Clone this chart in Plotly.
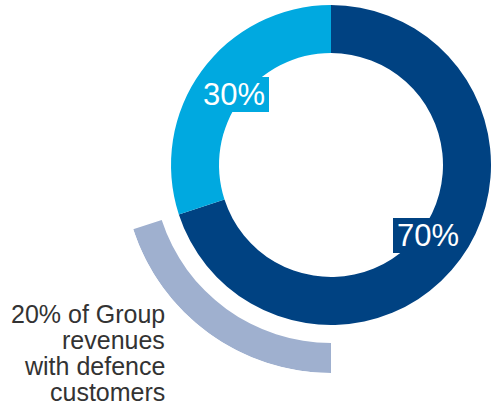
import plotly.graph_objects as go

# Revenue split shown as a donut, plus the defence share as an outer arc
segments = ["Segment A", "Segment B"]
shares = [70, 30]
segment_colors = ["#004282", "#00a9e0"]
label_texts = ["70%", "30%"]

defence_share = 20
defence_color = "#9fb0cf"
caption_lines = ["20% of Group", "revenues", "with defence", "customers"]

W, H = 491, 411
cx, cy = 331, 165          # donut centre in pixels (from top-left)
r_out, r_in = 160, 112     # donut radii
arc_in, arc_out = 178, 208  # outer arc radii


def px(x):
    return x / W


def py(y):
    return (H - y) / H


fig = go.Figure()

fig.add_trace(go.Pie(
    labels=segments,
    values=shares,
    marker=dict(colors=segment_colors, line=dict(width=0)),
    hole=r_in / r_out,
    sort=False,
    direction="clockwise",
    rotation=0,
    textinfo="none",
    hoverinfo="label+percent",
    showlegend=False,
    domain=dict(x=[px(cx - r_out), px(cx + r_out)],
                y=[py(cy + r_out), py(cy - r_out)]),
))

# Outer arc: starts at the bottom and sweeps clockwise by the defence share
span = defence_share / 100 * 360
fig.add_trace(go.Barpolar(
    r=[arc_out - arc_in],
    base=[arc_in],
    theta=[180 + span / 2],
    width=[span],
    marker=dict(color=defence_color, line=dict(width=0)),
    showlegend=False,
    hoverinfo="skip",
    subplot="polar",
))

fig.update_layout(
    width=W, height=H,
    margin=dict(l=0, r=0, t=0, b=0),
    paper_bgcolor="white",
    plot_bgcolor="white",
    polar=dict(
        domain=dict(x=[px(cx - arc_out), px(cx)],
                    y=[py(cy + arc_out), py(cy)]),
        sector=[180, 270],
        bgcolor="rgba(0,0,0,0)",
        radialaxis=dict(range=[0, arc_out], visible=False),
        angularaxis=dict(direction="clockwise", rotation=90, visible=False),
    ),
    font=dict(family="Liberation Sans, Arial, sans-serif"),
)

# Percentage tags on the ring
tag_pos = [(428, 236), (233.5, 94.5)]
for text, color, (x, y) in zip(label_texts, segment_colors, tag_pos):
    fig.add_annotation(
        x=px(x), y=py(y), xref="paper", yref="paper",
        xanchor="center", yanchor="middle",
        text=text, showarrow=False,
        font=dict(size=31, color="white"),
        bgcolor=color, borderwidth=0, borderpad=0,
        width=70, height=35,
    )

# Caption to the left of the arc
for i, line in enumerate(caption_lines):
    fig.add_annotation(
        x=px(167), y=py(314 + 26 * i), xref="paper", yref="paper",
        xanchor="right", yanchor="middle",
        text=line, showarrow=False, align="right",
        font=dict(size=25, color="#333333"),
    )

fig.write_html("out.html")
